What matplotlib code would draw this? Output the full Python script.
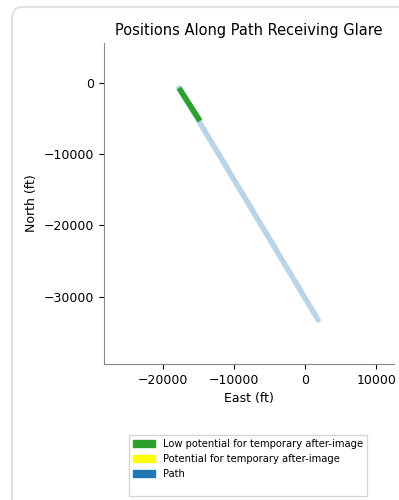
import matplotlib.pyplot as plt
from matplotlib.patches import FancyBboxPatch, Patch

# path end points (ft)
path_east = [-17750, 1830]
path_north = [-740, -33230]

# part of the path that gets glare
glare_east = [-17750, -14790]
glare_north = [-740, -5360]

legend_labels = ['Low potential for temporary after-image',
                 'Potential for temporary after-image',
                 'Path']
legend_colors = ['#2ca02c', '#ffff00', '#1f77b4']

fig = plt.figure(figsize=(3.99, 5.0), dpi=100)

# card border round the figure
card = FancyBboxPatch((12 / 399, -0.1), 1.2, 1.1 - 7 / 500,
                      boxstyle='round,pad=0,rounding_size=0.025',
                      transform=fig.transFigure, facecolor='none',
                      edgecolor='#e0e0e0', linewidth=1.5)
fig.patches.append(card)

ax = fig.add_axes([104 / 399, 1 - 364 / 500, 290 / 399, 321 / 500])
ax.plot(path_east, path_north, color='#1f77b4', alpha=0.3, linewidth=4,
        solid_capstyle='round')
ax.plot(glare_east, glare_north, color='#2ca02c', linewidth=4,
        solid_capstyle='butt')

ax.set_xlim(-28300, 12500)
ax.set_ylim(-39400, 5560)
ax.set_xticks([-20000, -10000, 0, 10000])
ax.set_yticks([0, -10000, -20000, -30000])
ax.tick_params(labelsize=9)
ax.set_xlabel('East (ft)', fontsize=9)
ax.set_ylabel('North (ft)', fontsize=9)
ax.set_title('Positions Along Path Receiving Glare', fontsize=10.5)
ax.spines['top'].set_visible(False)
ax.spines['right'].set_visible(False)
for s in ['left', 'bottom']:
    ax.spines[s].set_color('#888888')

handles = [Patch(color=c, label=l) for c, l in zip(legend_colors, legend_labels)]
# blank last row, the reference legend has extra room at the bottom
handles.append(Patch(color='none', label=' '))
leg = fig.legend(handles=handles, loc='upper center', bbox_to_anchor=(248 / 399, 1 - 430 / 500),
                 fontsize=7.2, frameon=True, fancybox=False, edgecolor='#cccccc',
                 handlelength=2.2, handleheight=0.6)
leg.get_texts()[-1].set_fontsize(3)

fig.savefig('out.png', dpi=100)
